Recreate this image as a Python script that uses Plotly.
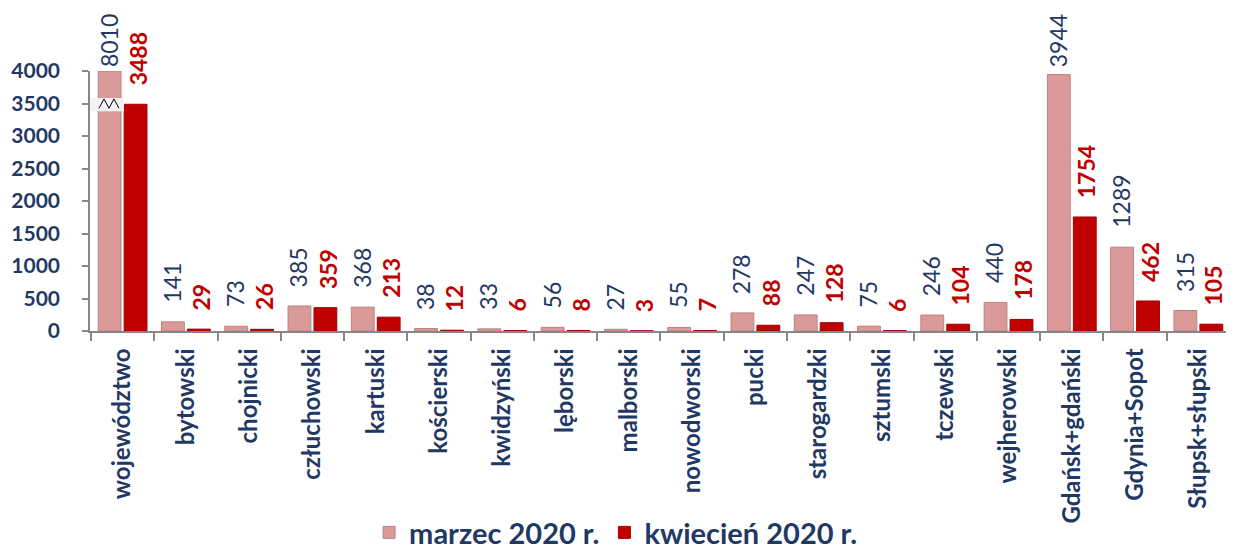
import numpy as np
import plotly.graph_objects as go

NAVY = "#1F3864"
RED = "#C00000"
PINK = "#DA9A9A"
GRID = "#868686"
FONT = "Lato, sans-serif"

categories = ["województwo", "bytowski", "chojnicki", "człuchowski", "kartuski",
              "kościerski", "kwidzyński", "lęborski", "malborski", "nowodworski",
              "pucki", "starogardzki", "sztumski", "tczewski", "wejherowski",
              "Gdańsk+gdański", "Gdynia+Sopot", "Słupsk+słupski"]
marzec = [8010, 141, 73, 385, 368, 38, 33, 56, 27, 55, 278, 247, 75, 246, 440, 3944, 1289, 315]
kwiecien = [3488, 29, 26, 359, 213, 12, 6, 8, 3, 7, 88, 128, 6, 104, 178, 1754, 462, 105]
y_ticks = [0, 500, 1000, 1500, 2000, 2500, 3000, 3500, 4000]

YMAX = 4000
PLOT_H = 260          # plot area height in px (543 - 63 - 220)
TOP_ROOM = 55         # px above plot area available for a label


def label_shift(v):
    # keep labels of the tallest bars inside the page
    px_above = (YMAX - min(v, YMAX)) / YMAX * PLOT_H
    return min(17, px_above + TOP_ROOM - 53)


fig = go.Figure()
fig.add_trace(go.Bar(
    x=categories, y=np.minimum(marzec, YMAX), name="marzec 2020 r.",
    marker=dict(color=PINK, line=dict(color="#C08080", width=1)),
    hoverinfo="skip"
))
fig.add_trace(go.Bar(
    x=categories, y=np.minimum(kwiecien, YMAX), name="kwiecień 2020 r.",
    marker=dict(color=RED, line=dict(color="#A00000", width=1)),
    hoverinfo="skip"
))

# value labels above bars (rotated)
for cat, v1, v2 in zip(categories, marzec, kwiecien):
    fig.add_annotation(x=cat, y=min(v1, YMAX), text=str(v1), textangle=-90,
                       xshift=-14, yshift=label_shift(v1), yanchor="bottom", showarrow=False,
                       font=dict(family=FONT, size=23, color=NAVY))
    fig.add_annotation(x=cat, y=min(v2, YMAX), text=str(v2), textangle=-90,
                       xshift=15, yshift=label_shift(v2), yanchor="bottom", showarrow=False,
                       font=dict(family=FONT, size=23, color=RED, weight="bold"))

# axis break marker on the clipped first bar
fig.add_shape(type="rect", xref="x", yref="y", x0=-0.515, x1=0.02, y0=3380, y1=3585,
              fillcolor="#F2F2F2", line=dict(width=0), layer="above")
fig.add_shape(type="path", xref="x", yref="y",
              path="M -0.373,3427 L -0.294,3570 L -0.215,3427 L -0.136,3570 L -0.057,3427",
              line=dict(color="black", width=1), layer="above")

# page body has an 8px margin, so the figure is sized to fit inside the window
fig.update_layout(
    width=1226, height=543,
    paper_bgcolor="white", plot_bgcolor="white",
    margin=dict(l=82, r=4, t=63, b=220, autoexpand=False),
    barmode="group", bargap=0.18, bargroupgap=0.12,
    font=dict(family=FONT, color=NAVY),
    showlegend=True,
    legend=dict(orientation="h", xref="container", x=0.496, xanchor="center",
                yref="container", y=0.034, yanchor="middle",
                font=dict(family=FONT, size=29, color=NAVY, weight="bold"),
                itemwidth=30, traceorder="normal"),
)
fig.update_xaxes(
    type="category", showline=True, linecolor=GRID, linewidth=1.5,
    ticks="outside", tickson="boundaries", ticklen=8, tickcolor=GRID, tickwidth=1.5,
    tickangle=-90, ticklabelstandoff=6,
    tickfont=dict(family=FONT, size=24, color=NAVY, weight="bold"),
    showgrid=False, zeroline=False,
)
fig.update_yaxes(
    range=[0, YMAX], tickvals=y_ticks, showline=True, linecolor=GRID, linewidth=1.5,
    ticks="outside", ticklen=6, tickcolor=GRID, tickwidth=1.5, ticklabelstandoff=18,
    tickfont=dict(family=FONT, size=21, color=NAVY, weight="bold"),
    showgrid=False, zeroline=False,
)

fig.write_html("out.html")
